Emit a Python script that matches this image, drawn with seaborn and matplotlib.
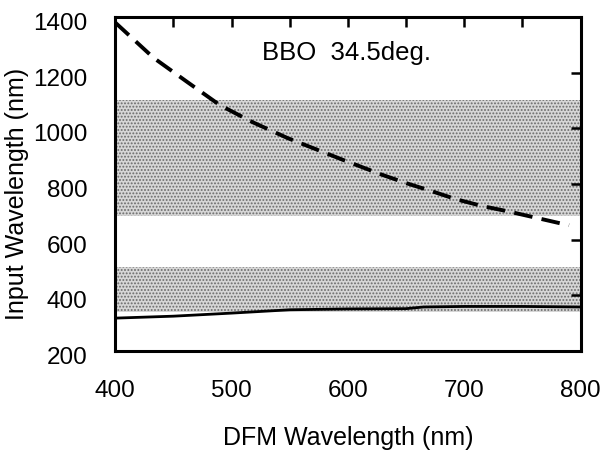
import matplotlib
matplotlib.use("Agg")
import matplotlib.pyplot as plt
import matplotlib.transforms as mtransforms
import seaborn as sns
import pandas as pd
from matplotlib.ticker import MultipleLocator

# Data
dash_x = [400, 433, 462, 490, 518, 548, 596, 630, 650, 672, 693, 716, 737, 759, 782, 790]
dash_y = [1380, 1253, 1166, 1083, 1022, 965, 886, 832, 803, 774, 745, 720, 702, 681, 659, 652]
solid_x = [400, 450, 500, 550, 600, 650, 665, 700, 750, 800]
solid_y = [318, 325, 336, 348, 351, 352, 358, 360, 360, 358]
bands = [(685, 1100), (340, 500)]
x_ticks = [400, 500, 600, 700, 800]
y_ticks = [200, 400, 600, 800, 1000, 1200, 1400]

sns.set_theme(style="white")
plt.rcParams['font.family'] = ['Liberation Sans', 'DejaVu Sans']
plt.rcParams['hatch.linewidth'] = 0.9
plt.rcParams['text.color'] = 'black'
plt.rcParams['axes.labelcolor'] = 'black'
plt.rcParams['xtick.color'] = 'black'
plt.rcParams['ytick.color'] = 'black'

fig = plt.figure(figsize=(6.03, 4.57), dpi=100)
ax = fig.add_axes([0.191, 0.232, 0.772, 0.731])

for lo, hi in bands:
    ax.axhspan(lo, hi, facecolor='#d6d6d6', edgecolor='#6a6a6a', hatch='.....', linewidth=0, zorder=0)

df_d = pd.DataFrame({'x': dash_x, 'y': dash_y})
df_s = pd.DataFrame({'x': solid_x, 'y': solid_y})
sns.lineplot(data=df_d, x='x', y='y', ax=ax, color='black', linewidth=2.8, zorder=3)
ax.lines[-1].set_dashes((4.8, 2.4))
sns.lineplot(data=df_s, x='x', y='y', ax=ax, color='black', linewidth=2.0, zorder=3)

ax.set_xlim(400, 800)
ax.set_ylim(200, 1400)
ax.set_xticks(x_ticks)
ax.set_yticks(y_ticks)
ax.xaxis.set_minor_locator(MultipleLocator(50))
ax.tick_params(axis='both', which='both', direction='in', top=True, right=True,
               width=1.8, color='black', labelcolor='black')
ax.tick_params(axis='both', which='major', length=7, labelsize=17.5)
ax.tick_params(axis='x', which='minor', length=7)
ax.tick_params(axis='x', which='major', pad=21)
ax.tick_params(axis='y', which='major', pad=20)
for s in ax.spines.values():
    s.set_linewidth(2.2)
    s.set_color('black')

offset = mtransforms.ScaledTranslation(0, -0.045, fig.dpi_scale_trans)
for lab in ax.get_yticklabels():
    lab.set_transform(lab.get_transform() + offset)

ax.set_xlabel('DFM Wavelength (nm)', fontsize=18, labelpad=17, color='black')
ax.set_ylabel('Input Wavelength (nm)', fontsize=18, color='black')
ax.yaxis.set_label_coords(-0.185, 0.47)
ax.text(0.498, 0.892, 'BBO  34.5deg.', transform=ax.transAxes, fontsize=18.5,
        ha='center', va='center', color='black')

fig.savefig('out.png', dpi=100)
